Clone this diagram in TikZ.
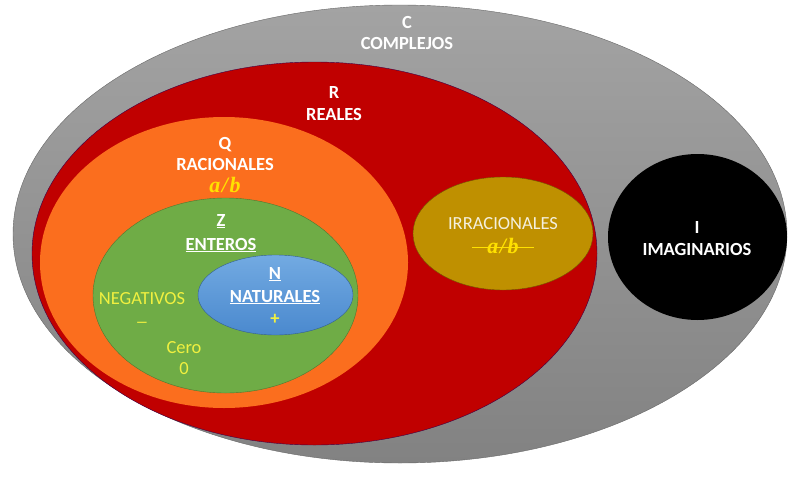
\documentclass[tikz,border=0pt]{standalone}
\usepackage{fontspec}
\setmainfont{Carlito}
\newfontfamily\fracfont{Liberation Serif}
\usepackage{tikz}
\usetikzlibrary{shapes.geometric}

\definecolor{grisA}{HTML}{A3A3A3}
\definecolor{grisB}{HTML}{828282}
\definecolor{rojo}{HTML}{C00000}
\definecolor{naranja}{HTML}{FB6E1E}
\definecolor{verde}{HTML}{6FAC46}
\definecolor{azulA}{HTML}{72AAE2}
\definecolor{azulB}{HTML}{4A89CE}
\definecolor{oliva}{HTML}{BF9000}
\definecolor{amarillo}{HTML}{F0F040}
\definecolor{oro}{HTML}{FFE100}
\definecolor{crema}{HTML}{F4F0DE}

\begin{document}
\begin{tikzpicture}[x=1pt,y=-1pt,node distance=22pt,
  lbl/.style={text=white,font=\fontsize{18.5}{22}\selectfont\bfseries,inner sep=0pt,text height=12pt,text depth=0pt},
  lbly/.style={lbl,text=amarillo,font=\fontsize{18.5}{22}\selectfont},
  frac/.style={lbl,text=oro,font=\fontsize{22}{22}\selectfont\fracfont\bfseries\itshape}]
\useasboundingbox (0,0) rectangle (800,479);
\shade[top color=grisA,bottom color=grisB,draw=grisB!80!black,thin] (400,234) ellipse [x radius=387pt,y radius=229pt];
\fill[rojo,draw=rojo!55!blue!60!black,thin] (314.5,253.5) ellipse [x radius=282.5pt,y radius=191.5pt];
\fill[naranja] (224,262.5) ellipse [x radius=184pt,y radius=145.5pt];
\fill[verde,draw=verde!70!black,thin] (225.5,295.5) ellipse [x radius=132.5pt,y radius=97.5pt];
\shade[top color=azulA,bottom color=azulB,draw=azulB!70!black,thin] (275.5,295) ellipse [x radius=77.5pt,y radius=40pt];
\fill[oliva,draw=oliva!60!black,thin] (503,233.5) ellipse [x radius=90pt,y radius=56.5pt];
\fill[black] (697.5,237) ellipse [x radius=89.5pt,y radius=83pt];
\node [lbl] (c) at (407,22) {C};
\node [lbl,below of=c,node distance=21pt] (cl) {COMPLEJOS};
\node [lbl] (r) at (334,92) {R};
\node [lbl,below of=r] (rl) {REALES};
\node [lbl] (q) at (225,143) {Q};
\node [lbl,below of=q,node distance=21pt] (ql) {RACIONALES};
\node [frac,below of=ql] (qf) {a\kern1.5pt/\kern1.5pt b};
\node [lbl] (z) at (221,220) {\underline{Z}};
\node [lbl,below of=z,node distance=24pt] (zl) {\underline{ENTEROS}};
\node [lbl] (n) at (275,273) {\underline{N}};
\node [lbl,below of=n,node distance=23pt] (nl) {\underline{NATURALES}};
\node [lbl,text=amarillo,below of=nl] (np) {+};
\node [lbly] (neg) at (142,298) {NEGATIVOS};
\node [lbly,below of=neg,font=\fontsize{13}{22}\selectfont\bfseries] (negs) {---};
\node [lbly] (cero) at (184,347) {Cero};
\node [lbly,below of=cero,node distance=21pt] (ceron) {0};
\node [lbly,text=crema] (irr) at (503,223) {IRRACIONALES};
\node [frac,below of=irr,node distance=24pt,inner xsep=15pt] (irrf) {a\kern1.5pt/\kern1.5pt b};
\node [lbl] (i) at (697,227) {I};
\node [lbl,below of=i] (il) {IMAGINARIOS};
\draw [oro,thin] (irrf.west) -- (irrf.east);
\end{tikzpicture}
\end{document}
